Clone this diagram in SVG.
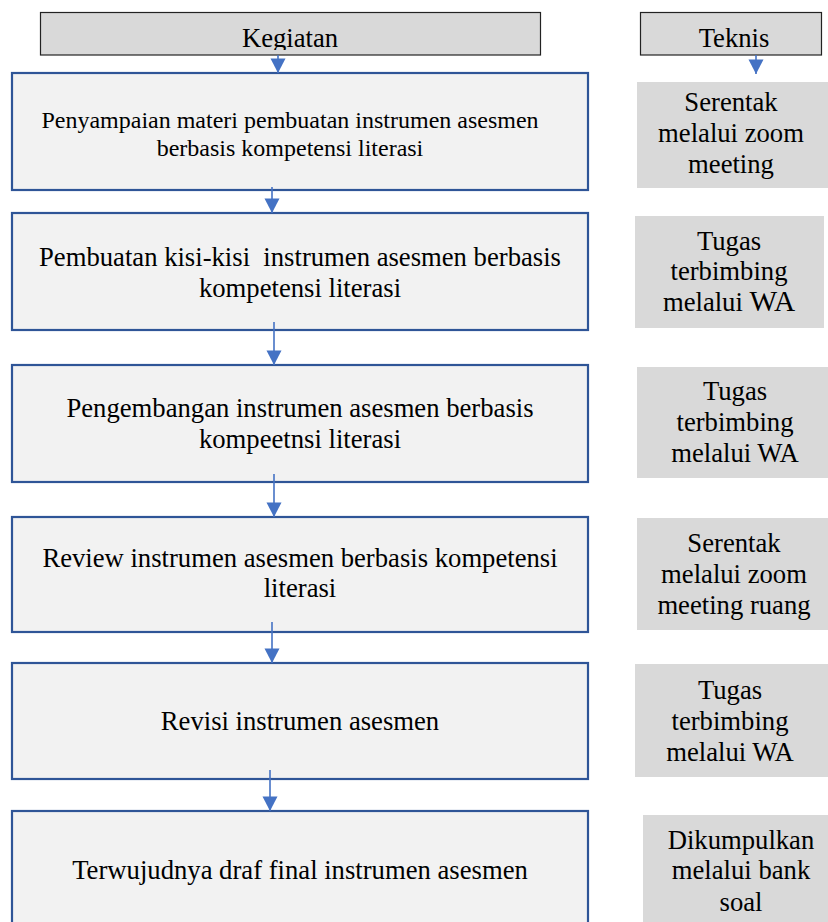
<svg xmlns="http://www.w3.org/2000/svg" width="828" height="922" viewBox="0 0 828 922">
<style>
text{font-family:"Liberation Serif","Times New Roman",serif;font-size:26.67px;fill:#000;text-anchor:middle}
.hdr{fill:#d9d9d9;stroke:#222;stroke-width:1.2}
.box{fill:#f2f2f2;stroke:#2f5597;stroke-width:2.2}
.tek{fill:#d9d9d9;stroke:none}
.con line{stroke:#4472c4;stroke-width:1.6}
.small{font-size:24px}
</style>
<defs>
<marker id="ah" markerUnits="userSpaceOnUse" markerWidth="16" markerHeight="16" viewBox="0 0 16 16" refX="8" refY="15" orient="0">
<path d="M0.5,0.5 L15.5,0.5 L8,15 Z" fill="#4472c4"/>
</marker>
<clipPath id="c1"><rect x="40" y="12" width="501" height="38"/></clipPath>
<clipPath id="c2"><rect x="640" y="12" width="182" height="38"/></clipPath>
</defs>

<g id="hdr-kegiatan">
<rect class="hdr" x="40.5" y="12.5" width="500" height="42.5"/>
<text x="290" y="47" clip-path="url(#c1)">Kegiatan</text>
</g>
<g id="hdr-teknis">
<rect class="hdr" x="640.5" y="12.5" width="181" height="42.5"/>
<text x="734" y="47" clip-path="url(#c2)">Teknis</text>
</g>

<g id="k1">
<rect class="box" x="12" y="73" width="576" height="117"/>
<text class="small" x="290" y="128">Penyampaian materi pembuatan instrumen asesmen</text>
<text class="small" x="290" y="156">berbasis kompetensi literasi</text>
</g>
<g id="k2">
<rect class="box" x="12" y="213" width="576" height="117"/>
<text x="300" y="266" xml:space="preserve">Pembuatan kisi-kisi  instrumen asesmen berbasis</text>
<text x="300" y="297">kompetensi literasi</text>
</g>
<g id="k3">
<rect class="box" x="12" y="365" width="576" height="117"/>
<text x="300" y="417">Pengembangan instrumen asesmen berbasis</text>
<text x="300" y="448">kompeetnsi literasi</text>
</g>
<g id="k4">
<rect class="box" x="12" y="517" width="576" height="115"/>
<text x="300" y="567">Review instrumen asesmen berbasis kompetensi</text>
<text x="300" y="597">literasi</text>
</g>
<g id="k5">
<rect class="box" x="12" y="663" width="576" height="116"/>
<text x="300" y="730">Revisi instrumen asesmen</text>
</g>
<g id="k6">
<rect class="box" x="12" y="811" width="576" height="120"/>
<text x="300" y="879">Terwujudnya draf final instrumen asesmen</text>
</g>

<g id="t1">
<rect class="tek" x="637" y="82" width="191" height="106"/>
<text x="731" y="111">Serentak</text>
<text x="731" y="142">melalui zoom</text>
<text x="731" y="173">meeting</text>
</g>
<g id="t2">
<rect class="tek" x="635" y="216" width="189" height="112"/>
<text x="729" y="250">Tugas</text>
<text x="729" y="280">terbimbing</text>
<text x="729" y="311">melalui <tspan style="font-size:29.3px">WA</tspan></text>
</g>
<g id="t3">
<rect class="tek" x="637" y="367" width="191" height="111"/>
<text x="735" y="400">Tugas</text>
<text x="735" y="431">terbimbing</text>
<text x="735" y="462">melalui WA</text>
</g>
<g id="t4">
<rect class="tek" x="637" y="518" width="191" height="112"/>
<text x="734" y="552">Serentak</text>
<text x="734" y="583">melalui zoom</text>
<text x="734" y="614">meeting ruang</text>
</g>
<g id="t5">
<rect class="tek" x="635" y="664" width="193" height="113"/>
<text x="730" y="699">Tugas</text>
<text x="730" y="730">terbimbing</text>
<text x="730" y="761">melalui WA</text>
</g>
<g id="t6">
<rect class="tek" x="643" y="815" width="185" height="107"/>
<text x="741" y="849">Dikumpulkan</text>
<text x="741" y="879">melalui bank</text>
<text x="741" y="911">soal</text>
</g>

<g id="connectors" class="con">
<line x1="278" y1="55" x2="278" y2="73" marker-end="url(#ah)"/>
<line x1="756" y1="55" x2="756" y2="74" marker-end="url(#ah)"/>
<line x1="272" y1="187" x2="272" y2="213" marker-end="url(#ah)"/>
<line x1="274" y1="322" x2="274" y2="365" marker-end="url(#ah)"/>
<line x1="274" y1="474" x2="274" y2="517" marker-end="url(#ah)"/>
<line x1="272" y1="622" x2="272" y2="663" marker-end="url(#ah)"/>
<line x1="270" y1="770" x2="270" y2="811" marker-end="url(#ah)"/>
</g>
</svg>
